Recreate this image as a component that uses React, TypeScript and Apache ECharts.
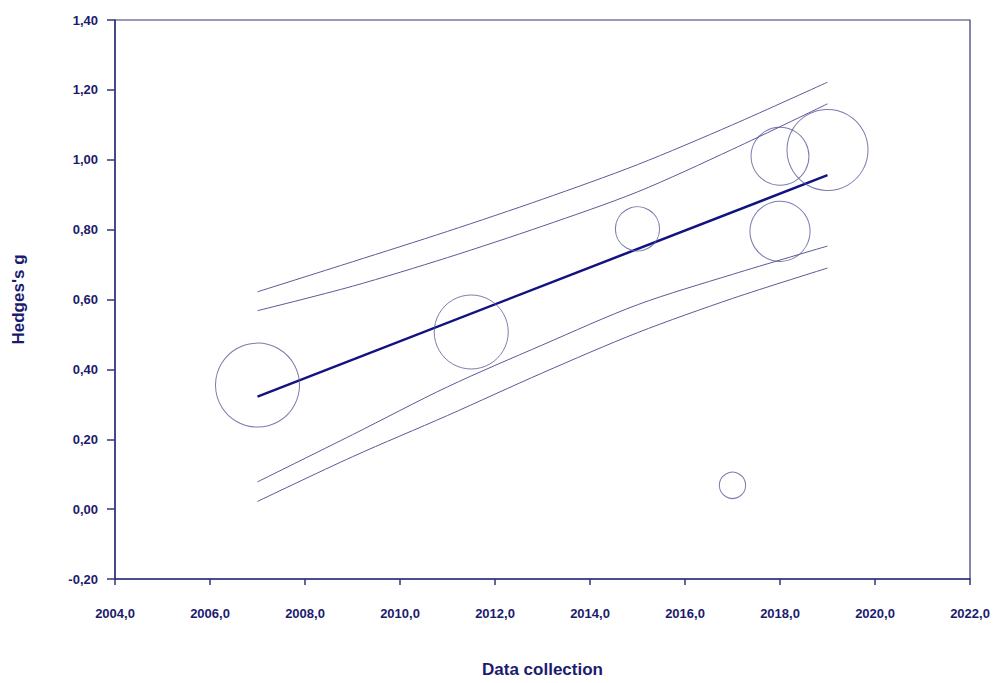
import React, { useEffect, useRef } from "react";
import * as echarts from "echarts";

// Study-level effects: year of data collection, Hedges's g, relative weight (%)
const studyYears = [2007, 2011.5, 2015, 2017, 2018, 2018, 2019];
const studyEffects = [0.355, 0.507, 0.802, 0.068, 1.01, 0.795, 1.028];
const studyWeights = [24.6, 19.1, 6.8, 2.4, 11.7, 12.6, 22.9];

// Meta-regression fit line
const fitYears = [2007, 2019];
const fitValues = [0.322, 0.956];

// Band curves sampled along the fitted range
const bandYears = [2007, 2009, 2011, 2013, 2015, 2017, 2019];
const upperOuter = [0.622, 0.708, 0.795, 0.887, 0.986, 1.1, 1.222];
const upperInner = [0.568, 0.638, 0.72, 0.81, 0.908, 1.03, 1.16];
const lowerInner = [0.078, 0.213, 0.35, 0.47, 0.585, 0.672, 0.753];
const lowerOuter = [0.022, 0.15, 0.268, 0.39, 0.505, 0.603, 0.69];

const NAVY = "#1b1b6e";
const AXIS = "#34347e";
const THIN = "#5a5a98";

const pairs = (xs: number[], ys: number[]) => xs.map((x, i) => [x, ys[i]]);

export default function App() {
  const ref = useRef<HTMLDivElement>(null);

  useEffect(() => {
    if (!ref.current) return;
    const chart = echarts.init(ref.current, null, { renderer: "svg" });

    const bandSeries = [upperOuter, upperInner, lowerInner, lowerOuter].map((vals) => ({
      type: "line",
      data: pairs(bandYears, vals),
      smooth: 0.3,
      symbol: "none",
      lineStyle: { color: THIN, width: 1 },
      z: 2,
    }));

    chart.setOption({
      animation: false,
      backgroundColor: "#ffffff",
      textStyle: { fontFamily: "Liberation Sans, Arial, sans-serif" },
      grid: {
        left: 115,
        right: 24,
        top: 20,
        bottom: 101,
        show: true,
        borderColor: AXIS,
        borderWidth: 1.2,
      },
      xAxis: {
        type: "value",
        min: 2004,
        max: 2022,
        interval: 2,
        name: "Data collection",
        nameLocation: "middle",
        nameGap: 82,
        nameTextStyle: { color: NAVY, fontSize: 17, fontWeight: "bold" },
        axisLine: { show: true, onZero: false, lineStyle: { color: AXIS, width: 1.5 } },
        axisTick: { show: true, inside: false, length: 6, lineStyle: { color: AXIS, width: 1.5 } },
        axisLabel: {
          color: NAVY,
          fontSize: 13,
          fontWeight: "bold",
          margin: 28,
          formatter: (v: number) => v.toFixed(1).replace(".", ","),
        },
        splitLine: { show: false },
      },
      yAxis: {
        type: "value",
        min: -0.2,
        max: 1.4,
        interval: 0.2,
        name: "Hedges's g",
        nameLocation: "middle",
        nameGap: 88,
        nameRotate: 90,
        nameTextStyle: { color: NAVY, fontSize: 17, fontWeight: "bold" },
        axisLine: { show: true, onZero: false, lineStyle: { color: AXIS, width: 1.5 } },
        axisTick: { show: true, inside: false, length: 8, lineStyle: { color: AXIS, width: 1.5 } },
        axisLabel: {
          color: NAVY,
          fontSize: 13,
          fontWeight: "bold",
          margin: 17,
          formatter: (v: number) => (Math.abs(v) < 1e-9 ? 0 : v).toFixed(2).replace(".", ","),
        },
        splitLine: { show: false },
      },
      series: [
        ...bandSeries,
        {
          type: "line",
          data: pairs(fitYears, fitValues),
          symbol: "none",
          lineStyle: { color: "#121280", width: 2.5 },
          z: 3,
        },
        {
          type: "scatter",
          data: studyYears.map((x, i) => [x, studyEffects[i], studyWeights[i]]),
          symbol: "circle",
          symbolSize: (v: number[]) => 2 * Math.sqrt(v[2] * 71.7),
          itemStyle: { color: "rgba(0,0,0,0)", borderColor: THIN, borderWidth: 1 },
          emphasis: { disabled: true },
          z: 4,
        },
      ],
    });

    return () => chart.dispose();
  }, []);

  return (
    <div
      ref={ref}
      style={{ position: "fixed", left: 0, top: 0, width: 994, height: 683, background: "#fff" }}
    />
  );
}
